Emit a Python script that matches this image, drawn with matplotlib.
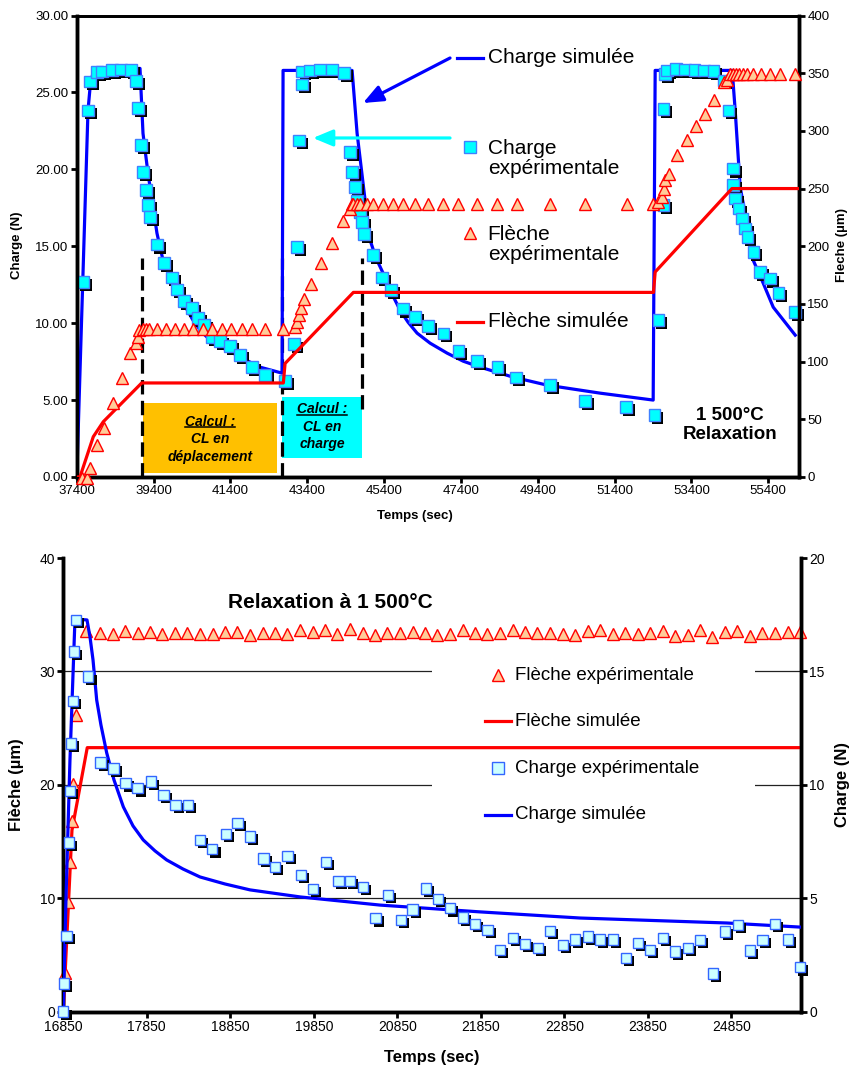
import matplotlib
matplotlib.use('Agg')
import matplotlib.pyplot as plt
import matplotlib.patheffects as pe
from matplotlib.patches import Rectangle
from matplotlib.lines import Line2D
from matplotlib.transforms import IdentityTransform

plt.rcParams['font.family'] = ['Liberation Sans', 'DejaVu Sans']

# ---------------- top chart data ----------------
top_sim_charge_t = [37400, 37692, 37744, 37822, 38395, 39046, 39124, 39254, 39488, 39645, 39827, 40009,
                    40218, 40426, 40634, 40869, 41155, 41468, 41806, 42171, 42744, 42770, 44567, 44697,
                    44905, 45036, 45191, 45374, 45582, 45817, 46024, 46259, 46597, 47041, 47457, 47900,
                    48759, 49644, 51024, 52404, 52456, 54461, 54539, 54669, 54930, 55008, 55268, 55529,
                    56102]
top_sim_charge_N = [0, 23.83, 25.26, 26.30, 26.49, 26.56, 22.34, 19.74, 15.84, 14.09, 13.05, 12.14,
                    11.10, 10.19, 9.48, 8.90, 8.44, 8.05, 7.60, 7.14, 6.75, 26.43, 26.43, 22.34,
                    17.99, 15.39, 14.22, 13.25, 12.01, 10.84, 10.06, 9.35, 8.70, 8.05, 7.53, 7.14,
                    6.49, 5.97, 5.45, 5.00, 26.43, 26.43, 23.83, 18.83, 15.39, 14.09, 12.60, 11.04,
                    9.22]

top_exp_charge_t = [37569, 37684, 37744, 37918, 38064, 38309, 38543, 38811, 38942, 39001, 39064, 39116,
                    39194, 39246, 39306, 39481, 39679, 39871, 40017, 40199, 40392, 40548, 40720, 40913,
                    41129, 41389, 41650, 41954, 42301, 42822, 43064, 43142, 43194, 43256, 43272, 43473,
                    43733, 44038, 44358, 44514, 44574, 44644, 44704, 44775, 44819, 44887, 45121, 45340,
                    45582, 45887, 46207, 46553, 46944, 47334, 47813, 48350, 48829, 49722, 50634, 51701,
                    52438, 52542, 52673, 52673, 52717, 52761, 53003, 53238, 53480, 53732, 53975, 54235,
                    54365, 54480, 54480, 54540, 54625, 54714, 54800, 54860, 55016, 55191, 55451, 55667,
                    56102]
top_exp_charge_N = [12.68, 23.83, 25.71, 26.32, 26.36, 26.47, 26.49, 26.47, 25.73, 23.98, 21.60, 19.82,
                    18.64, 17.66, 16.90, 15.11, 13.92, 12.97, 12.19, 11.43, 10.99, 10.34, 9.87, 9.11,
                    8.85, 8.53, 7.92, 7.16, 6.62, 6.25, 8.62, 14.95, 21.88, 25.52, 26.36, 26.43,
                    26.49, 26.49, 26.25, 21.12, 19.82, 18.85, 17.92, 17.21, 16.58, 15.82, 14.42, 12.97,
                    12.14, 10.95, 10.41, 9.81, 9.33, 8.20, 7.55, 7.16, 6.47, 5.97, 4.94, 4.56,
                    4.03, 10.19, 17.66, 23.94, 26.21, 26.43, 26.54, 26.49, 26.47, 26.43, 26.38, 25.78,
                    23.83, 20.05, 18.96, 18.10, 17.45, 16.80, 16.15, 15.60, 14.63, 13.33, 12.90, 11.97,
                    10.73]

top_exp_fleche_t = [37528, 37673, 37744, 37918, 38116, 38335, 38569, 38785, 38942, 38986, 39028,
                    39116, 39202, 39288, 39481, 39723, 39957, 40191, 40434, 40678, 40913, 41173, 41408,
                    41694, 41954, 42301, 42777,
                    43082, 43142, 43186, 43230, 43316, 43491, 43746, 44045, 44340, 44514, 44558,
                    44600, 44689, 44775, 44949, 45121, 45366, 45626, 45902, 46207, 46553, 46928, 47334,
                    47829, 48350, 48855, 49722, 50634, 51719, 52412,
                    52542, 52631, 52673, 52717, 52803, 53022, 53282, 53516, 53758, 53993, 54235, 54323,
                    54391, 54480, 54565, 54651, 54740, 54844, 55000, 55208, 55433, 55693, 56102]
top_exp_fleche_um = [-1, -1, 7.5, 27.7, 42.2, 63.8, 85.5, 107.1, 115.8, 121.5, 127.3,
                     127.9, 127.9, 127.9, 127.9, 127.9, 127.9, 127.9, 127.9, 127.9, 127.9, 127.9, 127.9,
                     127.9, 127.9, 127.9, 128.7,
                     129.6, 134.5, 140.3, 146.9, 153.9, 167.7, 185.3, 202.6, 221.6, 232.6, 237.0,
                     236.9, 236.9, 236.9, 236.9, 236.9, 236.9, 236.9, 236.9, 236.9, 236.9, 236.9, 236.9,
                     236.9, 236.9, 236.9, 236.9, 236.9, 236.9, 236.9,
                     238.4, 242.7, 250.0, 257.1, 262.9, 278.8, 291.8, 303.9, 314.9, 327.0, 342.3, 343.7,
                     349.5, 349.5, 349.5, 349.5, 349.5, 349.5, 349.5, 349.5, 349.5, 349.5, 349.5]

top_sim_fleche_t = [37400, 37483, 37830, 38090, 39090, 42777, 42822, 44600, 52412, 52456, 54454, 56200]
top_sim_fleche_um = [0, 0, 34.9, 47.9, 81.5, 81.5, 98.4, 160, 160, 177.7, 250, 250]

top_xticks = [37400, 39400, 41400, 43400, 45400, 47400, 49400, 51400, 53400, 55400]
top_left_ticks = [0, 5, 10, 15, 20, 25, 30]
top_right_ticks = [0, 50, 100, 150, 200, 250, 300, 350, 400]
cl_bounds_t = [39090, 42736, 44827]

# ---------------- bottom chart data ----------------
bot_sim_charge_t = [16850, 16882, 16930, 16990, 17134, 17170, 17206, 17250, 17301, 17370, 17457, 17569,
                    17685, 17808, 17948, 18088, 18284, 18487, 18787, 19086, 19685, 20643, 21841, 23038,
                    24799, 25673]
bot_sim_charge_N = [0, 4.93, 11.10, 17.31, 17.27, 16.52, 15.51, 13.74, 12.64, 11.41, 10.22, 9.03,
                    8.19, 7.57, 7.09, 6.69, 6.29, 5.94, 5.63, 5.37, 5.06, 4.70, 4.40, 4.13,
                    3.91, 3.73]

bot_sim_fleche_t = [16850, 16954, 17137, 25673]
bot_sim_fleche_um = [0, 16.0, 23.28, 23.28]

bot_exp_charge_t = [16850, 16858, 16891, 16918, 16930, 16939, 16963, 16978, 17002, 17149, 17298, 17449,
                    17597, 17741, 17897, 18048, 18196, 18340, 18487, 18634, 18795, 18934, 19086, 19245,
                    19385, 19537, 19693, 19837, 19996, 20143, 20284, 20436, 20591, 20735, 20891, 21034,
                    21190, 21334, 21481, 21633, 21780, 21932, 22080, 22232, 22379, 22531, 22679, 22834,
                    22978, 23130, 23278, 23430, 23589, 23729, 23876, 24028, 24176, 24328, 24475, 24627,
                    24774, 24927, 25074, 25221, 25373, 25525, 25673]
bot_exp_charge_N = [0, 1.25, 3.34, 7.45, 9.74, 11.83, 13.70, 15.87, 17.27, 14.77, 10.98, 10.73,
                    10.07, 9.85, 10.14, 9.55, 9.11, 9.11, 7.57, 7.16, 7.84, 8.33, 7.72, 6.76,
                    6.39, 6.87, 6.03, 5.40, 6.61, 5.76, 5.76, 5.49, 4.12, 5.15, 4.04, 4.51,
                    5.44, 4.97, 4.56, 4.16, 3.86, 3.61, 2.73, 3.24, 2.99, 2.80, 3.57, 2.94,
                    3.19, 3.31, 3.19, 3.19, 2.36, 3.04, 2.72, 3.24, 2.65, 2.80, 3.16, 1.69,
                    3.53, 3.82, 2.69, 3.16, 3.87, 3.19, 1.96]

bot_exp_fleche_t = [16870, 16910, 16930, 16951, 16970, 17002,
                    17122, 17290, 17441, 17589, 17741, 17888, 18036, 18188, 18335, 18487,
                    18639, 18786, 18934, 19086, 19238, 19388, 19533, 19685, 19837, 19984,
                    20131, 20284, 20436, 20583, 20730, 20882, 21034, 21181, 21329, 21481,
                    21633, 21780, 21928, 22080, 22232, 22379, 22527, 22679, 22831, 22978,
                    23130, 23278, 23430, 23580, 23729, 23874, 24028, 24176, 24328, 24478,
                    24622, 24774, 24922, 25074, 25221, 25373, 25525, 25673]
bot_exp_fleche_um = [3.4, 9.7, 13.2, 16.8, 20.1, 26.2,
                     33.60, 33.42, 33.31, 33.60, 33.42, 33.51, 33.28, 33.37, 33.37, 33.28,
                     33.31, 33.51, 33.51, 33.22, 33.42, 33.42, 33.31, 33.66, 33.51, 33.66,
                     33.31, 33.72, 33.37, 33.22, 33.37, 33.37, 33.51, 33.37, 33.22, 33.31,
                     33.66, 33.42, 33.31, 33.37, 33.66, 33.46, 33.42, 33.37, 33.31, 33.22,
                     33.60, 33.66, 33.31, 33.42, 33.31, 33.42, 33.57, 33.16, 33.22, 33.66,
                     33.02, 33.51, 33.60, 33.13, 33.37, 33.42, 33.51, 33.51]

bot_xticks = [16850, 17850, 18850, 19850, 20850, 21850, 22850, 23850, 24850]
bot_left_ticks = [0, 10, 20, 30, 40]
bot_right_ticks = [0, 5, 10, 15, 20]

# ---------------- styles ----------------
BLUE = '#0000FF'
RED = '#FF0000'
TRI_FACE = '#FFCC99'
shadow = [pe.SimplePatchShadow(offset=(2.2, -2.2), shadow_rgbFace='black', alpha=1.0), pe.Normal()]

fig = plt.figure(figsize=(8.54, 10.69), dpi=100)


def style_axes(ax, axr):
    for a in (ax, axr):
        for s in a.spines.values():
            s.set_linewidth(2.5)
    ax.tick_params(axis='both', direction='out', length=4, width=2, labelsize=9.5, pad=2)
    axr.tick_params(axis='y', direction='out', length=4, width=2, labelsize=9.5, pad=2)


# ======================= TOP CHART =======================
ax1 = fig.add_axes([0.0899, 0.5538, 0.8457, 0.4317])
ax1r = ax1.twinx()
ax1.set_xlim(37400, 56200)
ax1.set_ylim(0, 30)
ax1r.set_ylim(0, 400)
ax1.set_xticks(top_xticks)
ax1.set_yticks(top_left_ticks)
ax1.set_yticklabels([f'{v:.2f}' for v in top_left_ticks])
ax1r.set_yticks(top_right_ticks)
style_axes(ax1, ax1r)
ax1.spines['top'].set_linewidth(2)
ax1r.spines['top'].set_linewidth(2)

# boxes
ax1.add_patch(Rectangle((39124, 0.26), 42613 - 39124, 4.81 - 0.26, facecolor='#FFC000',
                        edgecolor='none', zorder=1))
ax1.add_patch(Rectangle((42744, 1.23), 44827 - 42744, 5.19 - 1.23, facecolor='#00FFFF',
                        edgecolor='none', zorder=1))
# dashed boundaries
ax1.plot([cl_bounds_t[0]] * 2, [0, 14.22], color='black', lw=2.3, ls=(0, (4.5, 2)), zorder=2)
ax1.plot([cl_bounds_t[1]] * 2, [0, 14.22], color='black', lw=2.3, ls=(0, (4.5, 2)), zorder=2)
ax1.plot([cl_bounds_t[2]] * 2, [4.4, 14.22], color='black', lw=2.3, ls=(0, (4.5, 2)), zorder=2)

ax1.plot(top_sim_charge_t, top_sim_charge_N, color=BLUE, lw=2.3, zorder=3)
ax1.plot(top_exp_charge_t, top_exp_charge_N, ls='none', marker='s', ms=8.5, mfc='#00FFFF',
         mec='#4080FF', mew=1, zorder=4, clip_on=False, path_effects=shadow)
ax1r.plot(top_sim_fleche_t, top_sim_fleche_um, color=RED, lw=2.3, zorder=3)
ax1r.plot(top_exp_fleche_t, top_exp_fleche_um, ls='none', marker='^', ms=8.5, mfc=TRI_FACE,
          mec=RED, mew=1, zorder=4, clip_on=False)

# box texts
kw = dict(ha='center', va='center', fontsize=10, fontweight='bold', style='italic', zorder=5)
t1 = ax1.text(40870, (477 - 421.7) / 15.4, 'Calcul :', **kw)
ax1.text(40870, (477 - 439) / 15.4, 'CL en', **kw)
ax1.text(40870, (477 - 456.7) / 15.4, 'déplacement', **kw)
t2 = ax1.text(43784, (477 - 409) / 15.4, 'Calcul :', **kw)
ax1.text(43784, (477 - 426.7) / 15.4, 'CL en', **kw)
ax1.text(43784, (477 - 444) / 15.4, 'charge', **kw)

ax1.text(0.9045, 0.1127, '1 500°C\nRelaxation', transform=ax1.transAxes, ha='center',
         va='center', fontsize=13.5, fontweight='bold', linespacing=1.2)

# legend-like annotations (top)
T = ax1r.transAxes
ax1r.plot([0.527, 0.562], [0.908, 0.908], color=BLUE, lw=2.3, transform=T, clip_on=False)
ax1r.text(0.569, 0.908, 'Charge simulée', transform=T, fontsize=15, va='center', ha='left')
ax1r.plot([0.545], [0.7155], marker='s', ms=8.5, mfc='#00FFFF', mec='#4080FF', mew=1,
          transform=T, clip_on=False)
ax1r.text(0.569, 0.690, 'Charge\nexpérimentale', transform=T, fontsize=15, va='center',
          ha='left', linespacing=1.05)
ax1r.plot([0.545], [0.528], marker='^', ms=8.5, mfc=TRI_FACE, mec=RED, mew=1,
          transform=T, clip_on=False)
ax1r.text(0.569, 0.503, 'Flèche\nexpérimentale', transform=T, fontsize=15, va='center',
          ha='left', linespacing=1.05)
ax1r.plot([0.527, 0.562], [0.336, 0.336], color=RED, lw=2.3, transform=T, clip_on=False)
ax1r.text(0.569, 0.336, 'Flèche simulée', transform=T, fontsize=15, va='center', ha='left')

# arrows
ax1r.annotate('', xy=(0.3963, 0.8104), xytext=(0.5168, 0.9079), xycoords=T, textcoords=T,
              arrowprops=dict(arrowstyle='-|>,head_length=1.2,head_width=0.5', color=BLUE, lw=2.3,
                              shrinkA=0, shrinkB=0))
ax1r.annotate('', xy=(0.327, 0.7346), xytext=(0.5168, 0.7346), xycoords=T, textcoords=T,
              arrowprops=dict(arrowstyle='-|>,head_length=1.2,head_width=0.5', color='#00FFFF',
                              lw=2.3, shrinkA=0, shrinkB=0))

fig.text(0.0199, 0.7708, 'Charge (N)', rotation=90, ha='center', va='center', fontsize=9.5,
         fontweight='bold')
fig.text(0.986, 0.7708, 'Fleche (µm)', rotation=90, ha='center', va='center', fontsize=9.5,
         fontweight='bold')
fig.text(0.486, 0.5173, 'Temps (sec)', ha='center', va='center', fontsize=9.5, fontweight='bold')

# ======================= BOTTOM CHART =======================
ax2 = fig.add_axes([0.0741, 0.0536, 0.8635, 0.4244])
ax2r = ax2.twinx()
ax2.set_xlim(16850, 25680)
ax2.set_ylim(0, 40)
ax2r.set_ylim(0, 20)
ax2.set_xticks(bot_xticks)
ax2.set_yticks(bot_left_ticks)
ax2r.set_yticks(bot_right_ticks)
style_axes(ax2, ax2r)
for a in (ax2, ax2r):
    a.spines['top'].set_visible(False)
ax2.tick_params(labelsize=10)
ax2r.tick_params(labelsize=10)

for g in (10, 20, 30):
    ax2.axhline(g, color='#222222', lw=0.9, zorder=0.5)
ax2.add_patch(Rectangle((0.50, 0.40), 0.438, 0.38, transform=ax2.transAxes, facecolor='white',
                        edgecolor='none', zorder=1))

ax2.plot(bot_sim_fleche_t, bot_sim_fleche_um, color=RED, lw=2.3, zorder=3)
ax2.plot(bot_exp_fleche_t, bot_exp_fleche_um, ls='none', marker='^', ms=8.5, mfc=TRI_FACE,
         mec=RED, mew=1, zorder=4, clip_on=False)
ax2r.plot(bot_sim_charge_t, bot_sim_charge_N, color=BLUE, lw=2.3, zorder=3)
ax2r.plot(bot_exp_charge_t, bot_exp_charge_N, ls='none', marker='s', ms=7.5, mfc='#CCFFFF',
          mec='#3366FF', mew=1, zorder=4, clip_on=False, path_effects=shadow)

T2 = ax2r.transAxes
ax2r.plot([0.590], [0.742], marker='^', ms=8.5, mfc=TRI_FACE, mec=RED, mew=1, transform=T2,
          clip_on=False)
ax2r.text(0.6126, 0.742, 'Flèche expérimentale', transform=T2, fontsize=13.5, va='center')
ax2r.plot([0.572, 0.607], [0.640, 0.640], color=RED, lw=2.3, transform=T2, clip_on=False)
ax2r.text(0.6126, 0.640, 'Flèche simulée', transform=T2, fontsize=13.5, va='center')
ax2r.plot([0.590], [0.537], marker='s', ms=8, mfc='#CCFFFF', mec='#3366FF', mew=1,
          transform=T2, clip_on=False)
ax2r.text(0.6126, 0.537, 'Charge expérimentale', transform=T2, fontsize=13.5, va='center')
ax2r.plot([0.572, 0.607], [0.434, 0.434], color=BLUE, lw=2.3, transform=T2, clip_on=False)
ax2r.text(0.6126, 0.434, 'Charge simulée', transform=T2, fontsize=13.5, va='center')

ax2r.text(0.2234, 0.901, 'Relaxation à 1 500°C', transform=T2, fontsize=15, fontweight='bold',
          va='center', ha='left')

fig.text(0.0199, 0.2657, 'Flèche (µm)', rotation=90, ha='center', va='center', fontsize=12,
         fontweight='bold')
fig.text(0.986, 0.2657, 'Charge (N)', rotation=90, ha='center', va='center', fontsize=12,
         fontweight='bold')
fig.text(0.506, 0.0112, 'Temps (sec)', ha='center', va='center', fontsize=12, fontweight='bold')

# underline "Calcul :"
fig.canvas.draw()
for t in (t1, t2):
    bb = t.get_window_extent()
    fig.add_artist(Line2D([bb.x0, bb.x1], [bb.y0 + 1.5, bb.y0 + 1.5], transform=IdentityTransform(),
                          color='black', lw=1.1))

fig.savefig('out.png', dpi=100)
